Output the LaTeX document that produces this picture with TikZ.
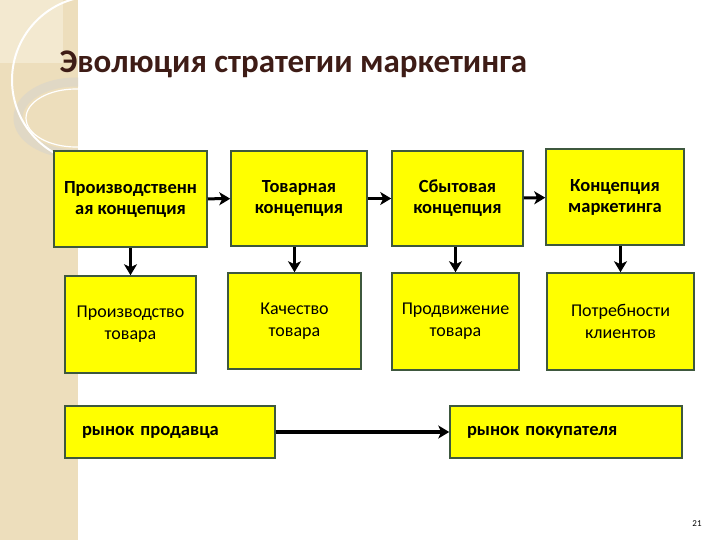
\documentclass[tikz,border=0pt]{standalone}
\usepackage{fontspec}
\setmainfont{Carlito}
\usetikzlibrary{arrows.meta}

\definecolor{boxyellow}{RGB}{255,255,0}
\definecolor{boxline}{RGB}{62,88,62}
\definecolor{titlebrown}{RGB}{62,28,22}
\definecolor{stripbeige}{RGB}{237,222,188}
\definecolor{stripfade}{RGB}{243,233,208}
\definecolor{ringgray}{RGB}{224,216,197}

\begin{document}
\begin{tikzpicture}[x=1pt, y=-1pt, >={Stealth[length=11pt,width=13pt,inset=3pt]},
  conc/.style={rectangle, draw=boxline, line width=1.5pt, fill=boxyellow, align=center, inner sep=2pt, font=\bfseries\fontsize{18.5}{21}\selectfont},
  res/.style={conc, font=\fontsize{18}{22}\selectfont},
  market/.style={rectangle, draw=boxline, line width=1.5pt, fill=boxyellow, align=left, inner xsep=17pt, minimum height=52pt, font=\bfseries\fontsize{18.5}{21}\selectfont},
  link/.style={->, line width=3pt},
  every node/.style={}]
\useasboundingbox (0,0) rectangle (720,540);
\fill[white] (0,0) rectangle (720,540);

% left strip
\fill[stripbeige] (0,0) rectangle (78,540);
\fill[stripfade] (0,0) rectangle (63,63);
\begin{scope}
\clip (0,0) rectangle (78,540);
\draw[ringgray, line width=9pt] (76,118) ellipse (58 and 36);
\draw[white, line width=1.2pt] (76,118) ellipse (50 and 29);
\draw[white, line width=2pt] (96,80) circle (84);
\end{scope}

\node[text=titlebrown, font=\bfseries\fontsize{33}{38}\selectfont, anchor=base west] (title) at (56,73) {Эволюция стратегии маркетинга};

% concepts
\node[conc, minimum width=153pt, minimum height=96pt] (b1) at (130.5,199) {Производственн\\ая концепция};
\node[conc, minimum width=136pt, minimum height=95pt] (b2) at (299,198.5) {Товарная\\концепция};
\node[conc, minimum width=131pt, minimum height=95pt] (b3) at (457.5,198.5) {Сбытовая\\концепция};
\node[conc, minimum width=138pt, minimum height=96pt] (b4) at (615,197) {Концепция\\маркетинга};

% focus of each concept
\node[res, minimum width=131pt, minimum height=97pt] (c1) at (130.5,324.5) {Производство\\товара};
\node[res, minimum width=133pt, minimum height=96pt] (c2) at (294.5,321) {Качество\\товара};
\node[res, minimum width=127pt, minimum height=97pt] (c3) at (455.5,321.5) {Продвижение\\товара};
\node[res, minimum width=147pt, minimum height=97pt] (c4) at (620.5,321.5) {Потребности\\клиентов};

% markets
\node[market, text width=176pt] (seller) at (170,432) {рынок продавца};
\node[market, text width=198pt] (buyer) at (566,432) {рынок покупателя};

\draw[link] (b1) -- (b2);
\draw[link] (b2) -- (b3);
\draw[link] (b3) -- (b4);
\draw[link] (b1.south -| c1) -- (c1.north);
\draw[link] (b2.south -| c2) -- (c2.north);
\draw[link] (b3.south -| c3) -- (c3.north);
\draw[link] (b4.south -| c4) -- (c4.north);
\draw[link, line width=4pt] (seller) -- (buyer);

\node[font=\fontsize{9}{11}\selectfont] (page) at (697,524) {21};
\end{tikzpicture}
\end{document}
